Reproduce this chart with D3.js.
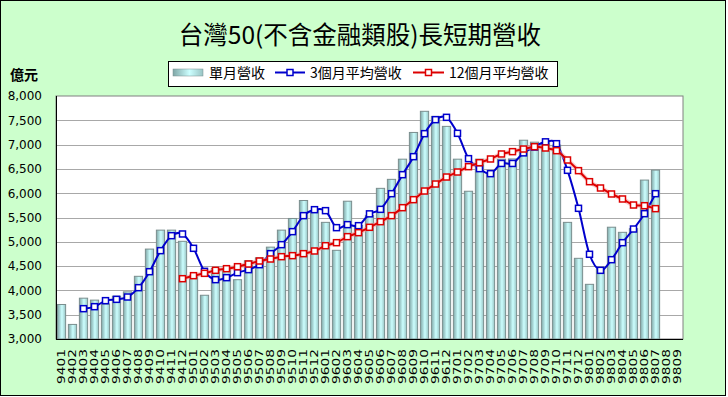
<!DOCTYPE html>
<html>
<head>
<meta charset="utf-8">
<script src="https://cdn.jsdelivr.net/npm/d3@7/dist/d3.min.js"></script>
<style>
  html, body { margin: 0; padding: 0; background: #ffffff; }
  svg { display: block; }
</style>
</head>
<body>
<svg id="chart" width="728" height="397"></svg>
<script>
// ---------------- data ----------------
const months = [
  "9401","9402","9403","9404","9405","9406","9407","9408","9409","9410","9411","9412",
  "9501","9502","9503","9504","9505","9506","9507","9508","9509","9510","9511","9512",
  "9601","9602","9603","9604","9605","9606","9607","9608","9609","9610","9611","9612",
  "9701","9702","9703","9704","9705","9706","9707","9708","9709","9710","9711","9712",
  "9801","9802","9803","9804","9805","9806","9807","9808","9809"
];
// 單月營收 (億元)
const monthly = [
  3710, 3300, 3840, 3800, 3720, 3880, 3970, 4290, 4850, 5240, 5240, 5010,
  4310, 3900, 4450, 4430, 4220, 4610, 4670, 4890, 5240, 5480, 5850, 5645,
  5400, 4825, 5835, 5340, 5545, 6100, 6285, 6700, 7250, 7685, 7580, 7375,
  6700, 6040, 6700, 6430, 6700, 6705, 7090, 7050, 7040, 6990, 5400, 4660,
  4125, 4430, 5300, 5195, 5270, 6270, 6475, null, null
];
// 3個月平均營收
const avg3 = [
  null, null, 3624, 3665, 3789, 3816, 3864, 4056, 4385, 4818, 5126, 5161,
  4866, 4392, 4221, 4262, 4365, 4427, 4529, 4756, 4941, 5209, 5538, 5661,
  5641, 5291, 5353, 5332, 5575, 5668, 5990, 6381, 6752, 7225, 7513, 7561,
  7232, 6711, 6505, 6402, 6612, 6612, 6830, 6950, 7057, 7019, 6471, 5689,
  4743, 4413, 4632, 4982, 5263, 5579, 5990, null, null
];
// 12個月平均營收
const avg12 = [
  null, null, null, null, null, null, null, null, null, null, null, 4241,
  4303, 4351, 4413, 4447, 4488, 4543, 4605, 4646, 4694, 4715, 4756, 4811,
  4920, 4982, 5106, 5188, 5298, 5414, 5538, 5702, 5867, 6045, 6189, 6333,
  6436, 6546, 6628, 6704, 6807, 6855, 6909, 6957, 6930, 6875, 6683, 6464,
  6237, 6107, 5984, 5881, 5757, 5743, 5682, null, null
];
const yTicks = [3000, 3500, 4000, 4500, 5000, 5500, 6000, 6500, 7000, 7500, 8000];
const titleText = "台灣50(不含金融類股)長短期營收";
const unitText = "億元";
const legendNames = ["單月營收", "3個月平均營收", "12個月平均營收"];

// ---------------- drawing ----------------
const svg = d3.select("#chart");
const W = 728, H = 397;
const plot = { left: 56, right: 683, top: 96, bottom: 339 };
const cjk = "'Noto Sans CJK TC', 'Noto Sans CJK SC', sans-serif";

// defs: bar gradient
const defs = svg.append("defs");
const grad = defs.append("linearGradient").attr("id", "barGrad")
  .attr("x1", "0%").attr("x2", "100%").attr("y1", "0%").attr("y2", "0%");
grad.append("stop").attr("offset", "0%").attr("stop-color", "#7FA6A6");
grad.append("stop").attr("offset", "55%").attr("stop-color", "#CCFFFF");
grad.append("stop").attr("offset", "100%").attr("stop-color", "#99C4C4");

// background & outer frame
svg.append("rect").attr("x", 0).attr("y", 0).attr("width", W).attr("height", H).attr("fill", "#ffffff");
svg.append("rect").attr("x", 0.5).attr("y", 0.5).attr("width", 725).attr("height", 395)
  .attr("fill", "#CCFFCC").attr("stroke", "#000").attr("stroke-width", 1);

// scales
const x = d3.scaleBand().domain(months).range([plot.left, plot.right])
  .paddingInner(0.25).paddingOuter(0.125);
const y = d3.scaleLinear().domain([3000, 8000]).range([plot.bottom, plot.top]);
const cx = d => x(d) + x.bandwidth() / 2;

// plot area
svg.append("rect").attr("x", plot.left).attr("y", plot.top)
  .attr("width", plot.right - plot.left).attr("height", plot.bottom - plot.top)
  .attr("fill", "#ffffff").attr("stroke", "#808080").attr("stroke-width", 1);

// gridlines
svg.append("g").selectAll("line").data(yTicks.filter(v => v > 3000 && v < 8000)).join("line")
  .attr("x1", plot.left).attr("x2", plot.right)
  .attr("y1", d => Math.round(y(d)) + 0.5).attr("y2", d => Math.round(y(d)) + 0.5)
  .attr("stroke", "#A8A8A8").attr("stroke-width", 1);

// bars
const barData = months.map((m, i) => ({ m, v: monthly[i] })).filter(d => d.v != null);
svg.append("g").selectAll("rect").data(barData).join("rect")
  .attr("x", d => x(d.m)).attr("width", x.bandwidth())
  .attr("y", d => y(d.v)).attr("height", d => y(3000) - y(d.v))
  .attr("fill", "url(#barGrad)").attr("stroke", "#7A8E8E").attr("stroke-width", 1);

// lines
const lineGen = d3.line()
  .defined(d => d.v != null)
  .x(d => cx(d.m)).y(d => y(d.v))
  .curve(d3.curveCatmullRom.alpha(0));

function drawSeries(values, color, glow) {
  const data = months.map((m, i) => ({ m, v: values[i] }));
  const g = svg.append("g");
  if (glow) {
    g.append("path").datum(data).attr("d", lineGen).attr("fill", "none")
      .attr("stroke", glow).attr("stroke-width", 4.5).attr("stroke-opacity", 0.55);
  }
  g.append("path").datum(data).attr("d", lineGen).attr("fill", "none")
    .attr("stroke", color).attr("stroke-width", 2);
  g.selectAll("rect").data(data.filter(d => d.v != null)).join("rect")
    .attr("x", d => cx(d.m) - 3).attr("y", d => y(d.v) - 3)
    .attr("width", 6).attr("height", 6)
    .attr("fill", "#ffffff").attr("stroke", color).attr("stroke-width", 1.5);
}
drawSeries(avg3, "#0000CC", null);
drawSeries(avg12, "#DD0000", "#F4A0A0");

// axes lines
svg.append("line").attr("x1", plot.left + 0.5).attr("x2", plot.left + 0.5)
  .attr("y1", plot.top).attr("y2", plot.bottom).attr("stroke", "#000").attr("stroke-width", 1);
svg.append("line").attr("x1", plot.left).attr("x2", plot.right)
  .attr("y1", plot.bottom + 0.5).attr("y2", plot.bottom + 0.5).attr("stroke", "#000").attr("stroke-width", 1);

// y axis labels
const yAxis = d3.axisLeft(y).tickValues(yTicks).tickFormat(d3.format(",")).tickSize(0).tickPadding(14);
const gy = svg.append("g").attr("transform", `translate(${plot.left},0)`).call(yAxis);
gy.select(".domain").remove();
gy.selectAll("text").attr("font-family", "'DejaVu Sans', sans-serif").attr("font-size", 12).attr("fill", "#000");

// x axis labels (rotated)
const xAxis = d3.axisBottom(x).tickSize(0).tickPadding(0);
const gx = svg.append("g").attr("transform", `translate(0,${plot.bottom})`).call(xAxis);
gx.select(".domain").remove();
gx.selectAll("text")
  .attr("font-family", "'DejaVu Sans', sans-serif").attr("font-size", 10).attr("fill", "#000")
  .attr("text-anchor", "end")
  .attr("dy", "0.35em")
  .attr("transform", "translate(0,10) rotate(-90)")
  .attr("x", 0).attr("y", 0)
  .attr("textLength", 35).attr("lengthAdjust", "spacingAndGlyphs");

// title
svg.append("text").attr("x", 360).attr("y", 44).attr("text-anchor", "middle")
  .attr("font-family", cjk).attr("font-size", 24.5).attr("fill", "#000").text(titleText);

// unit label
svg.append("text").attr("x", 10).attr("y", 80)
  .attr("font-family", cjk).attr("font-size", 14).attr("font-weight", "bold").attr("fill", "#000").text(unitText);

// legend
const lg = svg.append("g");
lg.append("rect").attr("x", 168.5).attr("y", 61.5).attr("width", 389).attr("height", 25)
  .attr("fill", "#ffffff").attr("stroke", "#000").attr("stroke-width", 1);
lg.append("rect").attr("x", 173).attr("y", 69).attr("width", 30).attr("height", 7)
  .attr("fill", "url(#barGrad)").attr("stroke", "#7A8E8E").attr("stroke-width", 0.5);
lg.append("text").attr("x", 209).attr("y", 78).attr("font-family", cjk).attr("font-size", 14).text(legendNames[0]);

const legLines = [
  { x0: 275, x1: 305, tx: 310, color: "#0000CC", name: legendNames[1] },
  { x0: 413, x1: 444, tx: 449, color: "#DD0000", name: legendNames[2] }
];
legLines.forEach(l => {
  lg.append("line").attr("x1", l.x0).attr("x2", l.x1).attr("y1", 72.5).attr("y2", 72.5)
    .attr("stroke", l.color).attr("stroke-width", 2);
  lg.append("rect").attr("x", (l.x0 + l.x1) / 2 - 3).attr("y", 69.5).attr("width", 6).attr("height", 6)
    .attr("fill", "#fff").attr("stroke", l.color).attr("stroke-width", 1.5);
  lg.append("text").attr("x", l.tx).attr("y", 78).attr("font-family", cjk).attr("font-size", 14).text(l.name);
});
</script>
</body>
</html>
